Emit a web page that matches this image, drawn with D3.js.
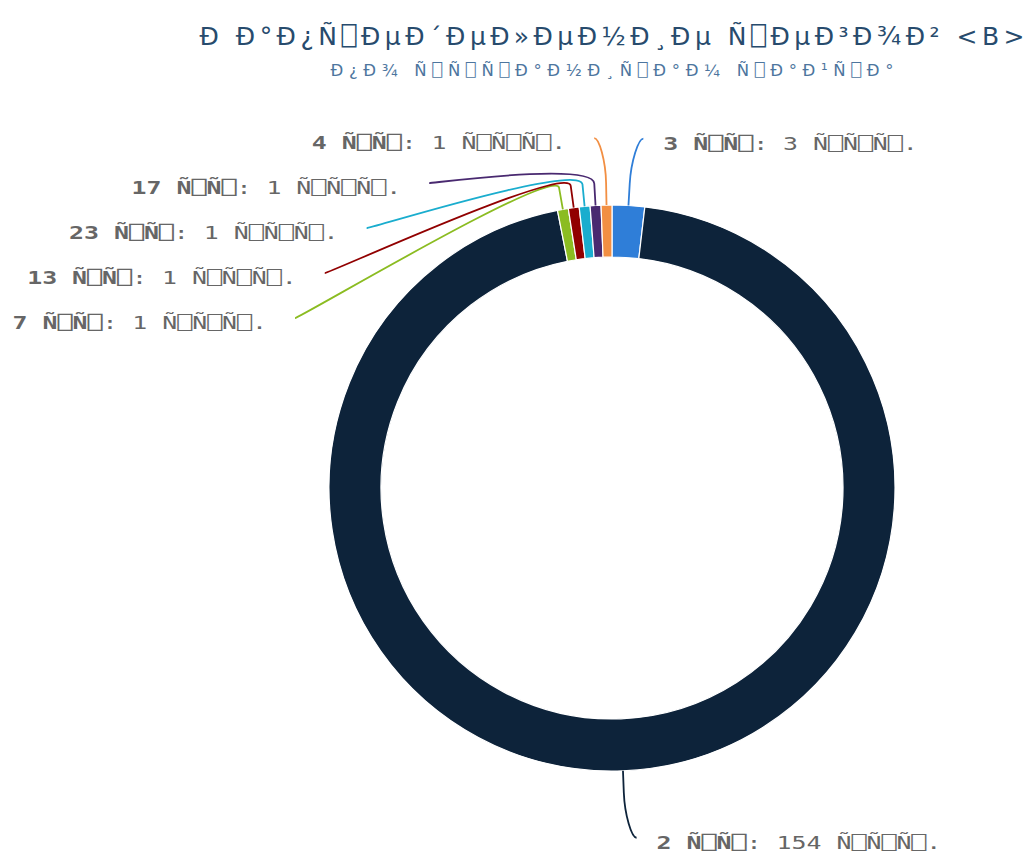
<!DOCTYPE html>
<html>
<head>
<meta charset="utf-8">
<script src="https://cdn.jsdelivr.net/npm/d3@7/dist/d3.min.js"></script>
<style>
  html, body { margin: 0; padding: 0; background: #ffffff; }
  svg { display: block; }
</style>
</head>
<body>
<svg id="chart" width="1026" height="857"></svg>
<script>
// ---- data (text kept as displayed in the reference; "⎕" stands for the empty missing-glyph box) ----
const titleText = "Ð\u00a0Ð°Ð¿Ñ\u2395ÐµÐ´ÐµÐ»ÐµÐ½Ð¸Ðµ Ñ\u2395ÐµÐ³Ð¾Ð² <B>";
const subtitleText = "Ð¿Ð¾ Ñ\u2395Ñ\u2395Ñ\u2395Ð°Ð½Ð¸Ñ\u2395Ð°Ð¼ Ñ\u2395Ð°Ð¹Ñ\u2395Ð°";
const categories = [
  "3 Ñ\u2395Ñ\u2395",
  "2 Ñ\u2395Ñ\u2395",
  "7 Ñ\u2395Ñ\u2395",
  "13 Ñ\u2395Ñ\u2395",
  "23 Ñ\u2395Ñ\u2395",
  "17 Ñ\u2395Ñ\u2395",
  "4 Ñ\u2395Ñ\u2395"
];
const values = [3, 154, 1, 1, 1, 1, 1];
const unitSuffix = "Ñ\u2395Ñ\u2395Ñ\u2395.";
const colors = ["#2f7ed8", "#0d233a", "#8bbc21", "#910000", "#1aadce", "#492970", "#f28f43"];

// ---- layout ----
const cx = 612, cy = 488;
const outerR = 283, innerR = 231;
const labelR = 350;       // radius of the label ring
const slotH = 45;         // vertical spacing of stacked labels
const xShift = 11;        // outward shift of connector end
const breakLen = 22;      // radial stub of connector
const charAdv = 15.2;     // label character advance

const svg = d3.select("#chart");

svg.append("text")
  .attr("x", cx).attr("y", 45)
  .attr("text-anchor", "middle")
  .attr("font-family", "DejaVu Sans, DejaVu Sans Mono")
  .attr("font-size", 25)
  .attr("textLength", 825)
  .attr("lengthAdjust", "spacing")
  .attr("fill", "#274b6d")
  .text(titleText);

svg.append("text")
  .attr("x", cx).attr("y", 76)
  .attr("text-anchor", "middle")
  .attr("font-family", "DejaVu Sans, DejaVu Sans Mono")
  .attr("font-size", 16.5)
  .attr("textLength", 563)
  .attr("lengthAdjust", "spacing")
  .attr("fill", "#4d759e")
  .text(subtitleText);

const data = categories.map((c, i) => ({ name: c, value: values[i], color: colors[i] }));

const pie = d3.pie().sort(null).value(d => d.value).startAngle(0).endAngle(2 * Math.PI);
const arcs = pie(data);
const arcGen = d3.arc().innerRadius(innerR).outerRadius(outerR);

const g = svg.append("g").attr("transform", `translate(${cx},${cy})`);
g.selectAll("path.slice")
  .data(arcs)
  .join("path")
  .attr("class", "slice")
  .attr("d", arcGen)
  .attr("fill", d => d.data.color)
  .attr("stroke", "#ffffff")
  .attr("stroke-width", 1.2)
  .attr("stroke-linejoin", "round");

// ---- label placement ----
const labels = arcs.map(a => {
  const ang = (a.startAngle + a.endAngle) / 2;
  const s = Math.sin(ang), c = Math.cos(ang);
  return {
    arc: a, ang, s, c,
    left: s < 0,
    nx: cx + labelR * s,
    ny: cy - labelR * c,
    ex: cx + outerR * s,
    ey: cy - outerR * c,
    bx: cx + (outerR + breakLen) * s,
    by: cy - (outerR + breakLen) * c
  };
});

[true, false].forEach(side => {
  const group = labels.filter(l => l.left === side).sort((a, b) => a.ny - b.ny);
  let prev = -Infinity;
  group.forEach(l => {
    l.y = Math.max(l.ny, prev + slotH);
    prev = l.y;
  });
});

labels.forEach(l => {
  const sign = l.left ? -1 : 1;
  if (Math.abs(l.y - l.ny) < 0.5) {
    l.x = l.nx;
  } else {
    const dy = l.y - cy;
    l.x = cx + sign * Math.sqrt(Math.max(labelR * labelR - dy * dy, 0));
  }
  l.x += sign * xShift;
});

const conn = svg.append("g");
labels.forEach(l => {
  const p = d3.path();
  p.moveTo(l.x, l.y);
  p.bezierCurveTo(l.x + (l.left ? 5 : -5), l.y, 2 * l.bx - l.ex, 2 * l.by - l.ey, l.bx, l.by);
  p.lineTo(l.ex, l.ey);
  conn.append("path")
    .attr("d", p.toString())
    .attr("fill", "none")
    .attr("stroke", l.arc.data.color)
    .attr("stroke-width", 1.8);
});

const txt = svg.append("g");
labels.forEach(l => {
  const rest = ": " + l.arc.data.value + " " + unitSuffix;
  const nChars = Array.from(l.arc.data.name + rest).length;
  const t = txt.append("text")
    .attr("x", l.left ? l.x - 28 : l.x + 20)
    .attr("y", l.y + 11)
    .attr("text-anchor", l.left ? "end" : "start")
    .attr("font-family", "DejaVu Sans Mono")
    .attr("font-size", 18)
    .attr("textLength", nChars * charAdv - 4)
    .attr("lengthAdjust", "spacingAndGlyphs")
    .attr("fill", "#666666");
  t.append("tspan").attr("font-weight", "bold").text(l.arc.data.name);
  t.append("tspan").text(rest);
});
</script>
</body>
</html>
